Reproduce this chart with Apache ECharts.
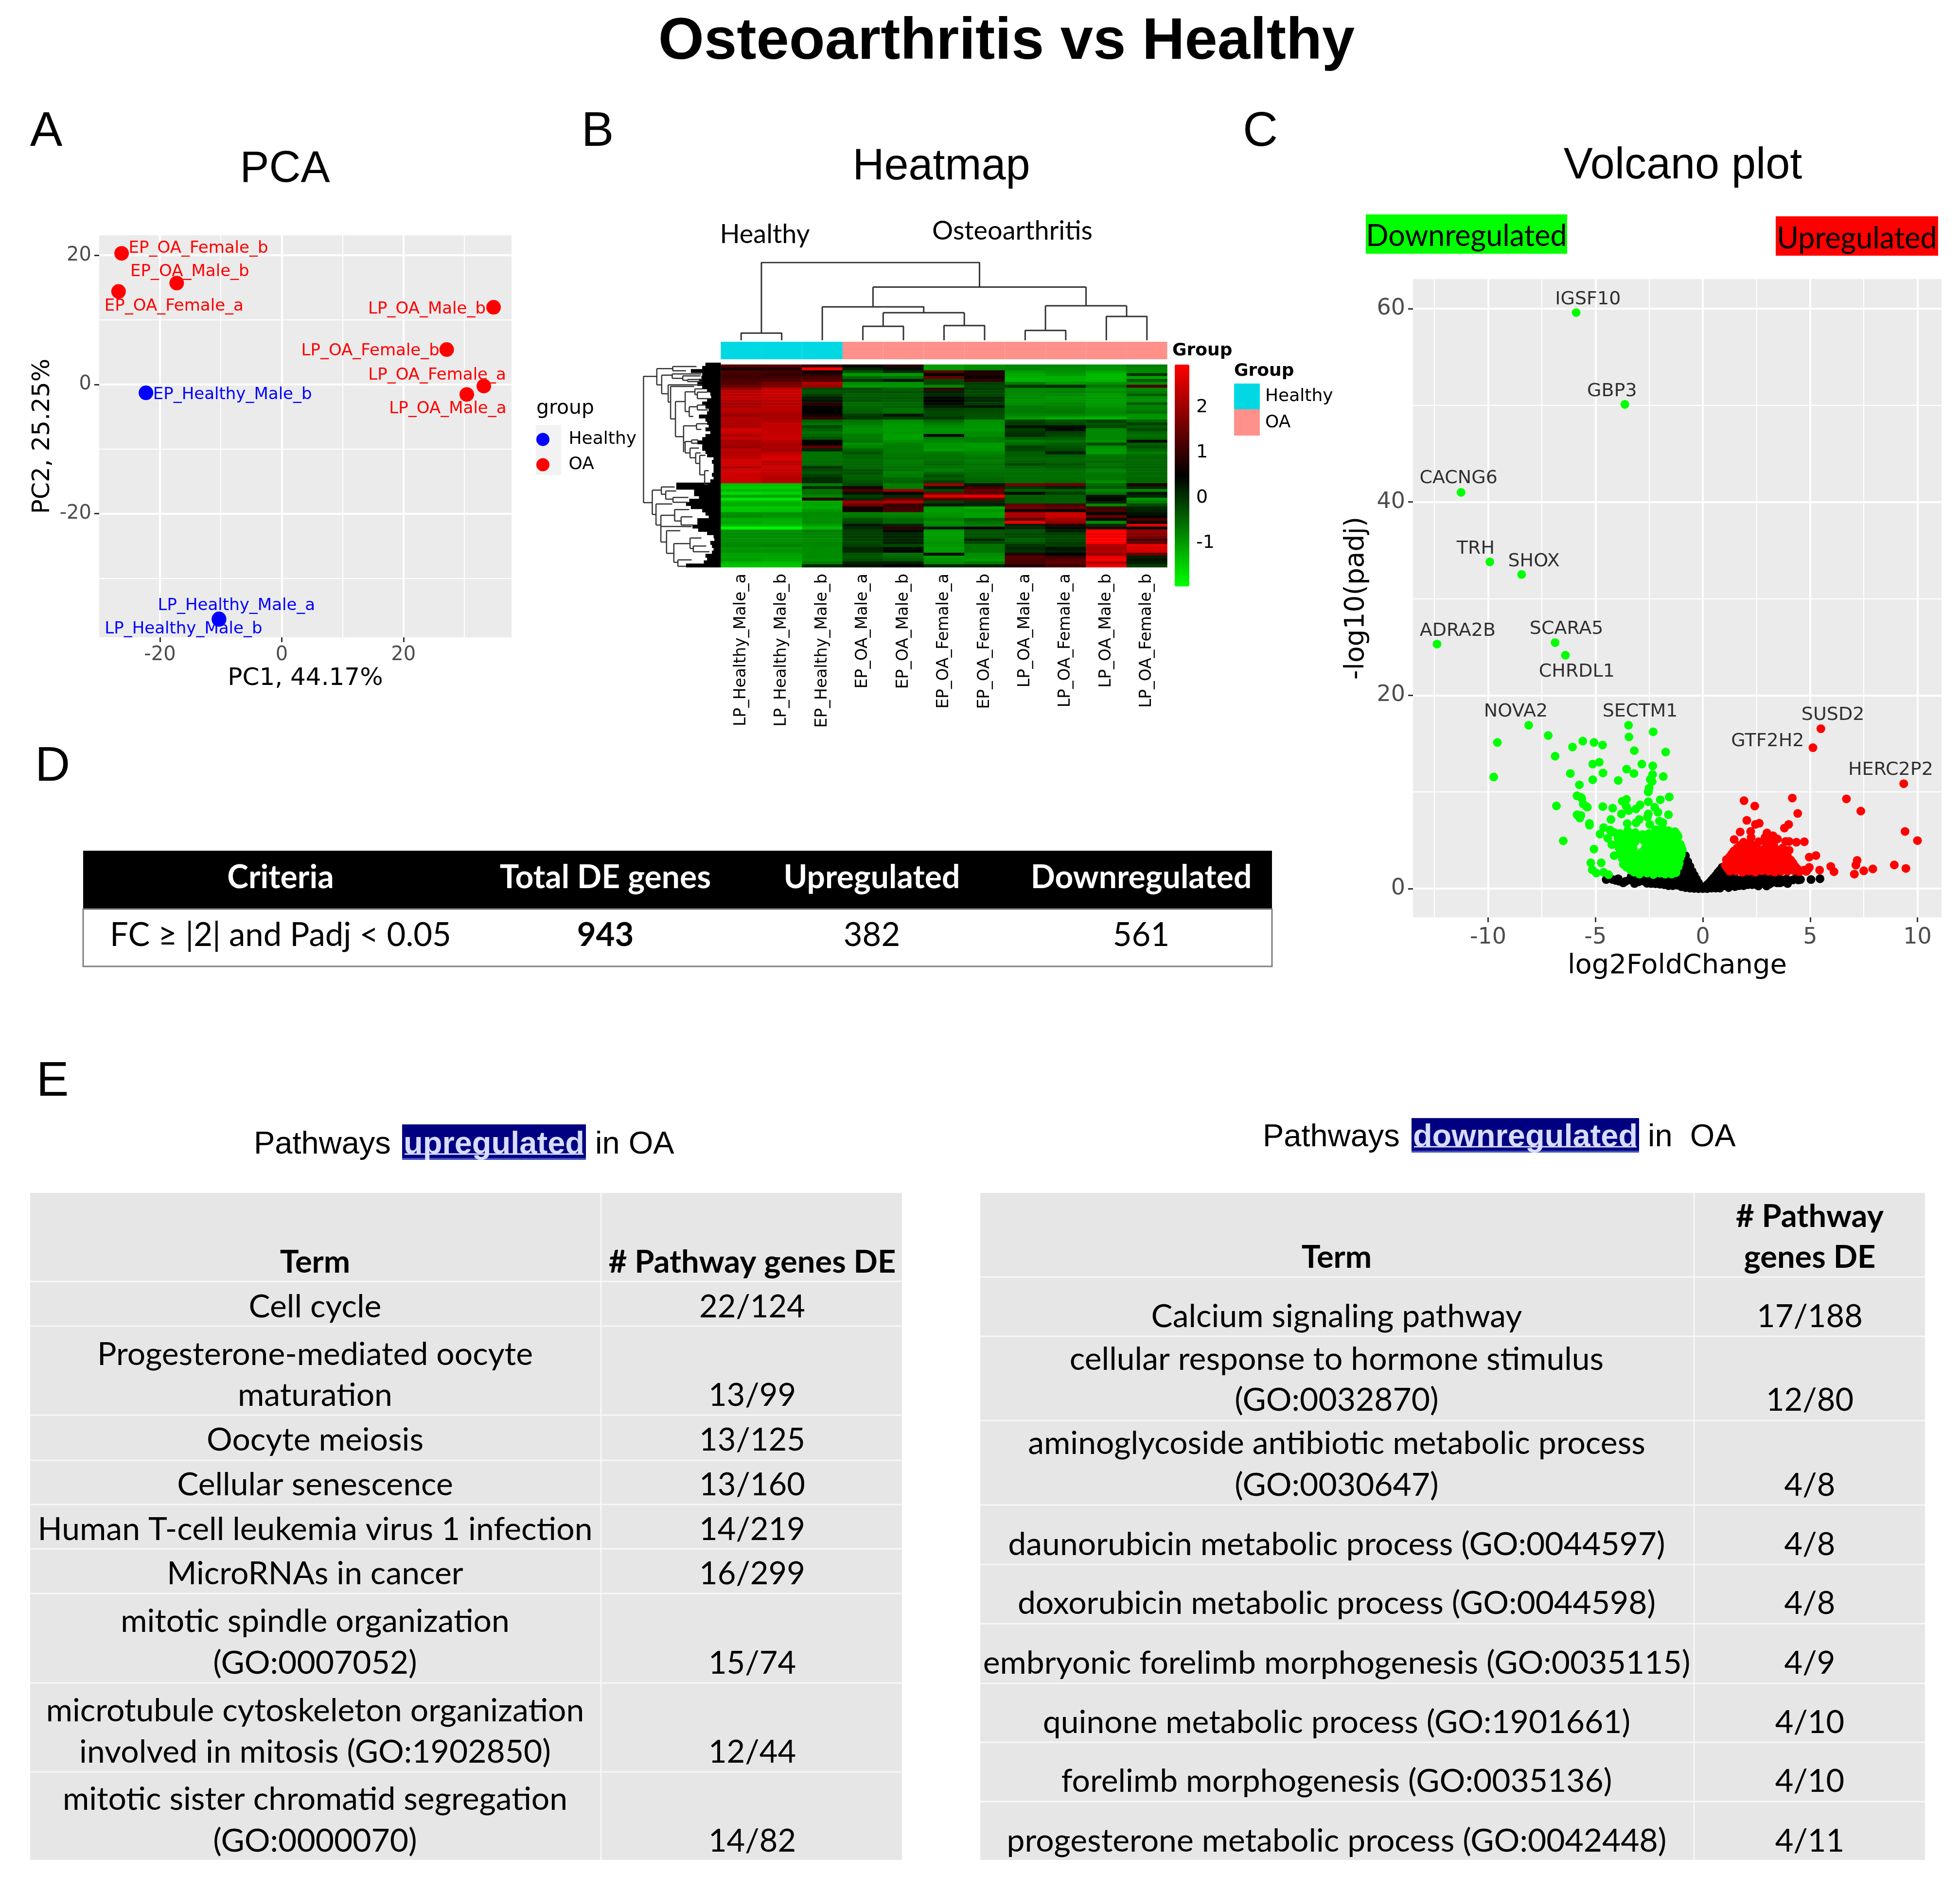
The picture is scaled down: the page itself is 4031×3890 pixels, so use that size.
<!DOCTYPE html>
<html><head><meta charset="utf-8">
<style>html,body{margin:0;padding:0;background:#fff}#c{width:4031px;height:3890px}</style>
<script src="https://cdn.jsdelivr.net/npm/echarts@6/dist/echarts.min.js"></script>
</head><body><div id="c"></div>
<script>
/* ---------- data ---------- */
const mainTitle = 'Osteoarthritis vs Healthy';
const pcaHealthy = [['EP_Healthy_Male_b',-22.3,-1.3],['LP_Healthy_Male_a',-10.3,-36.3],['LP_Healthy_Male_b',-10.3,-36.4]];
const pcaOA = [['EP_OA_Female_b',-26.3,20.3],['EP_OA_Male_b',-17.25,15.7],['EP_OA_Female_a',-26.8,14.4],['LP_OA_Male_b',34.8,11.95],['LP_OA_Female_b',27.1,5.4],['LP_OA_Female_a',33.2,-0.25],['LP_OA_Male_a',30.4,-1.55]];
const pcaTicksX = [-20,0,20], pcaTicksY = [-20,0,20], pcaMinorX = [-10,10,30], pcaMinorY = [-30,-10,10];

const sampleNames = ['LP_Healthy_Male_a','LP_Healthy_Male_b','EP_Healthy_Male_b','EP_OA_Male_a','EP_OA_Male_b','EP_OA_Female_a','EP_OA_Female_b','LP_OA_Male_a','LP_OA_Female_a','LP_OA_Male_b','LP_OA_Female_b'];
const sampleGroups = ['Healthy','Healthy','Healthy','OA','OA','OA','OA','OA','OA','OA','OA'];
const heatRows = [
[1.3,1.3,1.0,.5,.8,-1.0,-.9,-.8,-.8,-.9,-.7],[.7,.8,2.95,.2,.4,-1.0,-.85,-.8,-.85,-.9,-.8],[1.2,1.1,.6,-.3,.1,1.4,.8,-1.0,-.9,-1.1,-.85],[1.1,1.0,.9,-1.0,-1.0,.5,.8,-1.15,-1.0,-1.3,.0],
[1.1,1.1,1.2,-.5,-.6,1.5,.6,-1.2,-1.2,-1.3,-1.1],[1.2,1.3,1.3,.0,.3,-.2,1.0,-1.25,-1.2,-1.3,-.3],[1.3,1.6,2.2,-.85,-.9,-.2,-.1,-.7,-.95,-.9,-.85],[1.5,1.7,2.0,-1.0,-.95,-.8,-.2,.0,.1,-.6,1.2],
[2.0,2.4,-.2,-.2,-.4,1.0,-.1,-.75,-.75,-.95,-.8],[2.3,2.45,-.3,-.3,-.3,.2,-.2,-.8,-.75,-.85,-.7],[2.3,2.4,-.1,-.4,-.4,.1,-.2,-.8,-.85,-1.0,-.4],[2.4,2.4,.2,-.35,-.35,.4,.1,-.85,-.95,-1.0,-.85],
[2.2,2.3,.3,-.3,-.4,.5,.1,-.9,-.9,-1.0,-.9],[2.1,2.2,.9,-.55,-.5,.4,-.1,-.85,-.8,-1.0,-.4],[2.1,2.3,.6,-.5,-.45,.2,.3,-.7,-.75,-.95,-.75],[2.3,2.3,.45,-.45,-.6,-.1,-.2,-.7,-.7,-.85,-.75],
[2.2,2.2,.5,-.4,-.55,-.2,-.25,-.7,-.65,-.8,-.6],[2.0,2.1,.7,-.1,.3,-.2,-.3,-.8,-.8,-.9,-.9],[2.2,2.15,1.0,.0,-.1,.0,-.3,-1.0,-1.15,-1.25,-.95],[2.2,2.15,-.4,-.6,-.85,-.5,-.9,-.1,-.3,-.1,-.5],
[2.2,2.4,-.6,-.7,-.95,-.7,-.9,-.1,-.2,-.3,-.1],[2.1,2.35,-.2,-.85,-1.0,-.85,-.95,.3,.35,-.2,-.4],[2.55,2.4,-.4,-.9,-1.0,-.95,-1.0,-.1,.4,-.8,-.2],[2.4,2.4,-.6,-.85,-.95,-.9,-.85,.0,-.1,-.8,-.5],
[2.2,2.4,-.5,-.7,-1.05,.4,-.85,.1,-.2,-.8,-.6],[2.4,2.45,-.3,-.7,-1.05,-.7,-.7,-.4,-.4,-.8,-.5],[2.1,2.3,.6,-.6,-.9,-.8,-.7,-.7,-.6,-.9,.4],[2.1,2.1,.5,-.9,-.75,-.95,-1.0,-.5,-.4,-.2,-.4],
[2.0,2.2,1.4,-.75,-.7,-.95,-1.0,-.1,-.3,-.9,-.3],[2.3,2.05,.2,-.5,-.7,-1.0,-.95,-.2,-.2,-1.0,-.5],[2.2,2.3,-.6,-.3,-.7,-.7,-.8,-.4,.2,-1.0,-.7],[2.3,2.5,-.6,-.5,-.65,-.6,-.7,-.4,-.4,-.6,-.5],
[2.4,2.6,-.6,-.5,-.6,-.6,-.65,-.5,-.5,-.6,-.5],[2.5,2.3,-.55,-.5,-.7,-.55,-.7,-.4,-.45,-.5,-.5],[2.5,2.3,-.55,-.5,-.65,-.5,-.6,-.2,-.3,-.6,-.5],[2.2,2.5,.0,-.5,-.6,-.6,-.65,-.5,-.4,-.5,-.45],
[2.5,2.4,-.2,-.3,-.6,-.7,-.6,-.55,-.55,-.75,-.5],[2.5,2.35,-.3,-.3,-.75,-.5,-.55,-.55,-.55,-.7,-.5],[2.45,2.3,-.1,-.45,-.7,-.25,-.55,-.6,-.6,-.6,-.55],[2.45,2.2,.1,-.4,-.5,-.4,-.5,-.55,-.55,-.65,-.5],
[2.45,2.3,.1,-.3,-.45,-.1,-.45,-.55,-.5,-.85,-.5],
[-1.35,-1.35,-.7,-.2,-.7,2.0,.3,1.6,1.5,-.5,.8],[-1.5,-1.5,.1,.7,-.7,.3,1.1,.0,.2,-.4,.1],[-1.3,-1.3,-.6,1.2,2.0,-.2,1.5,-.4,-.4,-.8,-.8],[-1.6,-1.55,-.6,.3,.5,1.6,1.4,.4,-.1,-.6,.3],
[-1.1,-1.1,-.8,-.1,.1,2.6,2.8,-.4,-.4,.3,.1],[-1.7,-1.7,.9,.1,1.5,1.3,1.4,-.35,-.4,.5,-.9],[-1.25,-1.25,-1.15,2.0,2.2,-.1,.1,-.4,-.4,.2,-.7],[-1.2,-1.2,-1.1,1.6,1.0,.3,.2,1.4,1.2,-.8,-.2],
[-1.45,-1.45,-1.15,.6,1.1,-1.0,-1.15,1.6,1.5,1.1,.1],[-1.4,-1.35,-.95,.7,1.2,-1.05,-.95,.7,.6,1.2,.2],[-.9,-.9,-.85,-.75,-.8,-.95,-1.05,2.2,2.5,.4,.3],[-.85,-.95,-.85,-.65,-.7,-.9,-1.05,2.1,2.4,1.5,.5],
[-1.15,-1.15,-.9,-.3,-.5,-.7,-.4,1.4,2.1,.4,1.2],[-1.1,-1.2,-.85,-.2,-.5,-.9,-.6,2.8,1.9,-.85,.6],[-1.3,-1.3,-1.05,.3,.2,-.8,-.7,.2,.8,.1,2.7],[-1.85,-1.85,-1.3,.1,.9,.3,.6,.1,.4,.8,.5],
[-.9,-.9,-.7,-.1,.4,-1.0,-.3,-.3,.2,2.9,1.9],[-.85,-.85,-.8,-.1,.1,-1.05,-.3,-.2,-.1,2.8,1.8],[-.85,-.85,-.8,-.1,.15,-1.0,-.3,-.25,-.2,2.85,1.7],[-.9,-.9,-.85,-.15,.1,-1.0,.1,-.4,-.2,2.95,1.2],
[-.85,-.85,-.8,-.2,.2,-.9,-.2,-.3,-.1,2.95,1.5],[-.8,-.75,-.8,-.1,-.2,-.95,-.6,.0,-.1,2.2,2.7],[-.95,-.95,-.85,.1,.3,-1.05,-.6,.1,.3,2.1,2.6],[-.9,-.9,-.85,.1,.5,-1.0,-.6,.0,.2,2.2,2.5],
[-1.05,-1.05,-.85,-.3,-.6,.4,-.85,.8,.5,2.0,1.5],[-1.1,-1.1,-.85,-.35,-.5,-1.0,-.9,1.3,1.1,2.7,.2],[-1.0,-1.1,-.9,-.25,-.35,-.9,-1.0,1.2,1.3,2.9,.3],[-1.3,-1.35,-.75,.2,.2,-.85,-.7,1.2,1.4,2.2,.2],[-1.4,-1.4,.1,.3,.5,.1,.2,.8,1.1,2.8,-.1]
];
const heatMin = -1.96, heatMax = 2.95, heatTicks = [-1,0,1,2];
/* column dendrogram: polylines [columnPosition, mergeHeight] */
const colTree = [
[[.5,0],[.5,21],[1.5,21],[1.5,0]],[[1,21],[1,228],[6.375,228],[6.375,156]],
[[3.75,156],[9,156]],[[3.75,156],[3.75,98]],[[9,156],[9,101]],
[[2.5,0],[2.5,98],[5,98],[5,81]],[[4,81],[6,81]],[[4,81],[4,41]],[[6,81],[6,43]],
[[3.5,0],[3.5,41],[4.5,41],[4.5,0]],[[5.5,0],[5.5,43],[6.5,43],[6.5,0]],
[[8,101],[10,101]],[[8,101],[8,29]],[[10,101],[10,70]],
[[7.5,0],[7.5,29],[8.5,29],[8.5,0]],[[9.5,0],[9.5,70],[10.5,70],[10.5,0]]
];
/* row dendrogram: polylines [height, rowPosition] */
const rowTree = [
[[477,882],[477,103],[395,103]],[[477,882],[423,882]],
[[395,55],[395,155]],[[395,55],[297,55]],[[395,155],[365,155]],
[[297,42],[297,68]],[[297,42],[150,42]],[[297,68],[215,68]],
[[365,95],[365,210]],[[365,95],[300,95]],[[365,210],[325,210]],
[[300,88],[300,115]],[[300,88],[120,88]],[[300,115],[235,115]],
[[235,100],[235,127]],[[235,100],[125,100]],[[235,127],[205,127]],[[205,122],[205,135]],[[205,122],[115,122]],[[205,135],[115,135]],
[[325,155],[325,262]],[[325,155],[115,155]],[[325,262],[310,262]],
[[310,165],[310,365]],[[310,165],[165,165]],[[310,365],[280,365]],
[[280,258],[280,475]],[[280,258],[220,258]],[[280,475],[230,475]],
[[220,198],[220,320]],[[220,198],[160,198]],[[220,320],[195,320]],
[[160,180],[160,215]],[[160,180],[115,180]],[[160,215],[145,215]],[[145,200],[145,240]],[[145,240],[70,240]],[[145,200],[85,200]],
[[195,290],[195,350]],[[195,290],[145,290]],[[195,350],[170,350]],[[145,280],[145,310]],[[145,280],[95,280]],[[145,310],[80,310]],
[[230,408],[230,570]],[[230,408],[150,408]],[[230,510],[220,510]],[[150,395],[150,430]],[[150,395],[80,395]],[[150,430],[120,430]],
[[220,505],[220,575]],[[220,505],[180,505]],[[220,575],[190,575]],[[180,495],[180,515]],[[180,495],[140,495]],[[180,515],[140,515]],
[[190,545],[190,605]],[[190,545],[135,545]],[[190,605],[155,605]],[[155,575],[155,640]],[[155,575],[125,575]],[[155,640],[130,640]],
[[130,590],[130,710]],[[130,590],[95,590]],[[130,710],[100,710]],[[100,685],[100,770]],[[100,685],[75,685]],[[100,770],[80,770]],
[[423,805],[423,955]],[[423,805],[367,805]],[[423,955],[400,955]],
[[367,785],[367,830]],[[367,785],[285,785]],[[367,830],[340,830]],
[[340,810],[340,860]],[[340,810],[275,810]],[[340,860],[295,860]],[[295,850],[295,880]],[[295,850],[200,850]],[[295,880],[200,880]],
[[400,890],[400,1020]],[[400,890],[300,890]],[[400,1020],[370,1020]],
[[370,960],[370,1125]],[[370,960],[285,960]],[[370,1028],[180,1030]],[[370,1125],[335,1125]],
[[285,925],[285,995]],[[285,925],[195,925]],[[285,995],[245,995]],[[245,970],[245,1020]],[[245,970],[175,970]],[[245,1020],[170,1020]],
[[335,1055],[335,1195]],[[335,1055],[250,1055]],[[335,1195],[290,1195]],
[[290,1135],[290,1250]],[[290,1135],[190,1135]],[[290,1250],[265,1250]],
[[190,1100],[190,1165]],[[190,1100],[120,1100]],[[190,1165],[170,1165]],[[170,1150],[170,1185]],[[170,1150],[90,1150]],[[170,1185],[70,1185]],
[[265,1235],[265,1275]],[[265,1235],[180,1235]],[[265,1275],[215,1275]]
];
const rowLeafPos =   [30,50,70,90,110,130,150,170,190,210,230,250,270,290,310,330,350,370,390,410,430,450,470,490,510,530,550,570,590,610,630,650,670,690,710,730,750,770,790,810,830,850,870,890,910,930,950,970,990,1010,1030,1050,1070,1090,1110,1130,1150,1170,1190,1210,1230,1250,1270];
const rowLeafDepth = [95,115,185,115,120,135,145,115,85,65,60,85,115,95,75,85,135,95,85,75,95,65,95,115,145,115,115,95,85,45,55,45,45,45,55,45,65,275,275,165,165,135,195,215,185,115,95,75,145,145,175,140,85,45,40,65,55,45,55,95,85,105,215];

const volcanoGreen = [[-5.9,59.6],[-3.63,50.1],[-11.26,41.0],[-9.92,33.8],[-8.44,32.5],[-12.38,25.3],[-6.88,25.45],[-6.4,24.15],
[-8.11,16.9],[-7.2,15.84],[-9.57,15.12],[-5.59,15.26],[-5.07,15.12],[-4.67,14.85],[-6.07,14.65],[-6.88,13.7],[-3.46,16.9],[-3.44,15.69],[-2.31,16.22],[-3.19,14.27],[-1.73,14.13],[-4.82,13.08],[-5.13,12.88],[-2.84,12.88],[-2.33,12.7],[-3.55,12.36],[-4.65,11.96],[-6.17,11.91],[-3.21,11.91],[-2.34,11.8],[-1.84,11.6],[-9.74,11.55],[-5.13,11.26],[-3.94,11.19],[-2.36,11.08],[-2.45,11.3],[-5.75,10.74],[-2.54,10.04],[-2.5,10.4],[-5.86,9.6],[-5.67,9.44],[-1.56,9.48],[-1.98,9.19],
[-2.54,10.0],[-3.56,9.24],[-3.75,9.04],[-5.64,9.33],[-5.42,8.49],[-5.68,7.57],[-5.28,6.56],[-4.66,8.49],[-4.2,8.32],[-3.79,7.73],[-4.28,7.15],[-3.56,8.49],[-3.45,8.07],[-2.92,8.66],[-3.11,8.24],[-2.54,8.99],[-2.24,8.41],[-2.09,7.9],[-1.6,7.65],[-2.54,7.73],[-2.58,7.4],[-2.96,7.15],[-3.11,6.81],[-2.47,6.64],[-3.52,6.73],[-2.02,6.98],[-1.86,6.81],[-4.62,6.31],[-4.32,6.06],[-4.13,5.81],[-4.79,5.64],[-4.43,5.22],[-4.24,4.55],[-5.07,4.09],[-4.13,3.41],[-5.22,2.67],[-4.73,2.67],[-5.15,1.95],[-4.96,1.61],[-4.62,1.69],[-4.39,1.44],[-6.82,8.56],[-6.5,4.94],[-5.86,7.64],[-5.73,7.3],[-5.28,6.74],[-5.57,8.76],[-5.38,8.43],
[-3.85,5.7],[-3.5,6.0],[-3.15,5.8],[-2.8,5.6],[-2.5,5.7],[-2.2,6.1],[-1.9,6.3],[-1.6,6.0],[-1.3,5.9],
[-3.95,5.2],[-3.6,5.3],[-3.3,5.2],[-2.95,5.25],[-2.6,5.1],[-2.3,5.3],[-2.0,5.4],[-1.7,5.2],[-1.4,5.3],[-1.15,5.4],
[-3.98,4.5],[-3.65,4.6],[-3.3,4.55],[-2.55,4.5],[-2.25,4.6],[-1.95,4.6],[-1.65,4.55],[-1.35,4.6],[-1.05,4.6],
[-3.85,3.8],[-3.5,3.9],[-3.2,3.8],[-2.85,3.75],[-2.55,3.85],[-2.25,3.9],[-1.95,3.8],[-1.65,3.9],[-1.35,3.85],[-1.05,3.8],[-.95,4.0],
[-3.75,3.1],[-3.45,3.2],[-3.15,3.15],[-2.85,3.2],[-2.55,3.1],[-2.25,3.2],[-1.95,3.15],[-1.65,3.2],[-1.35,3.15],[-1.05,3.2],
[-3.7,2.5],[-3.4,2.4],[-3.1,2.5],[-2.8,2.45],[-2.5,2.5],[-2.2,2.4],[-1.9,2.5],[-1.6,2.45],[-1.3,2.5],[-1.1,2.6],
[-3.35,1.9],[-3.05,1.85],[-2.75,1.9],[-2.45,1.85],[-2.15,1.95],[-1.85,1.9],[-1.55,1.85],[-1.25,1.95],[-2.95,1.5],[-2.3,1.45],[-1.75,1.5],[-1.45,1.5],
[-3.7,5.5],[-3.35,5.5],[-3.0,5.5],[-2.65,5.45],[-2.35,5.5],[-2.05,5.75],[-1.75,5.65],[-1.45,5.6],[-1.2,5.6],
[-3.8,4.9],[-3.45,4.9],[-3.15,4.85],[-2.75,4.95],[-2.45,4.85],[-2.1,4.95],[-1.8,4.9],[-1.5,4.95],[-1.2,4.95],
[-3.9,4.2],[-3.55,4.2],[-3.25,4.2],[-2.7,4.15],[-2.4,4.2],[-2.1,4.25],[-1.8,4.2],[-1.5,4.2],[-1.2,4.2],[-1.0,4.3],
[-3.8,3.5],[-3.5,3.5],[-3.2,3.45],[-3.0,3.5],[-2.7,3.45],[-2.4,3.5],[-2.1,3.5],[-1.8,3.55],[-1.5,3.5],[-1.2,3.5],[-1.0,3.5],
[-3.6,2.85],[-3.3,2.8],[-3.0,2.85],[-2.7,2.8],[-2.4,2.85],[-2.1,2.8],[-1.8,2.85],[-1.5,2.8],[-1.2,2.85],
[-3.55,2.2],[-3.25,2.2],[-2.95,2.15],[-2.65,2.2],[-2.35,2.15],[-2.05,2.2],[-1.75,2.15],[-1.45,2.2],[-1.15,2.25],[-3.2,1.7],[-2.6,1.6],[-2.0,1.6],[-1.25,1.65]];
const volcanoRed = [[5.5,16.54],[5.13,14.58],[9.36,10.85],[4.17,9.37],[6.69,9.28],[7.36,8.02],[1.92,9.1],[2.42,8.54],[4.42,7.78],[9.42,5.91],[10.0,4.97],[7.19,2.92],[7.13,2.43],[5.27,3.42],[4.96,3.26],[8.92,2.45],[9.46,2.09],[7.92,2.04],[7.5,1.84],[7.06,1.5],[5.96,2.29],[6.11,1.75],[5.44,1.91],[4.96,2.2],[4.71,1.91],
[2.05,7.06],[2.63,6.76],[2.45,6.64],[4.0,6.64],[3.8,6.26],[1.74,5.86],[2.23,5.92],[1.46,5.08],[2.99,5.76],[3.27,5.47],[3.48,5.13],[4.73,4.85],[4.36,4.8],[4.02,4.88],[3.86,4.88],[3.72,4.21],[4.02,3.96],[4.91,2.03],[4.82,1.78],
[1.25,1.8],[1.55,1.8],[1.85,1.7],[2.15,1.8],[2.45,1.7],[2.75,1.85],[3.05,1.8],[3.35,1.7],[3.65,1.8],[3.95,1.8],[4.25,1.85],[4.5,1.75],
[1.05,2.4],[1.35,2.4],[1.65,2.35],[1.95,2.4],[2.25,2.45],[2.55,2.4],[2.85,2.35],[3.15,2.4],[3.45,2.4],[3.75,2.45],[4.05,2.4],[4.3,2.3],
[1.1,3.0],[1.4,3.0],[1.7,3.05],[2.0,3.0],[2.3,2.95],[2.6,3.0],[2.9,3.0],[3.2,3.05],[3.5,3.0],[3.8,3.05],[4.1,2.95],
[1.35,3.6],[1.65,3.6],[1.95,3.55],[2.25,3.6],[2.55,3.65],[2.85,3.6],[3.15,3.6],[3.45,3.55],[3.7,3.6],
[1.6,4.2],[1.9,4.2],[2.2,4.15],[2.5,4.2],[2.85,4.1],[3.1,4.25],[3.35,4.2],
[1.9,4.8],[2.2,4.75],[2.6,4.85],[2.9,4.9],[3.2,4.8],[2.25,5.3],[2.9,5.3],[3.1,5.35],
[1.15,2.1],[1.45,2.1],[1.75,2.05],[2.05,2.1],[2.35,2.1],[2.65,2.05],[2.95,2.1],[3.25,2.1],[3.55,2.05],[3.85,2.1],[4.15,2.1],[4.4,2.05],
[1.2,2.7],[1.5,2.7],[1.8,2.7],[2.1,2.65],[2.4,2.7],[2.75,2.7],[3.05,2.7],[3.35,2.65],[3.65,2.7],[3.95,2.7],[4.2,2.65],
[1.25,3.3],[1.55,3.3],[1.85,3.3],[2.15,3.25],[2.45,3.3],[2.75,3.3],[3.0,3.3],[3.3,3.3],[3.6,3.25],[3.95,3.3],
[1.45,3.9],[1.8,3.9],[2.1,3.9],[2.4,3.85],[2.7,3.9],[3.0,3.9],[3.25,3.9],[3.55,3.85],[1.75,4.5],[2.05,4.5],[2.35,4.45],[3.0,4.5],[3.3,4.5]];
const volcanoBlack = [[-.81,3.4],[-.7,2.8],[-.6,2.3],[-.5,1.8],[-.4,1.4],[-.3,1.0],[-.2,.6],[-.1,.25],[0,0],[.1,.2],[.2,.4],[.3,.6],[.4,.85],[.5,1.1],[.6,1.35],[.7,1.65],[.8,1.9],[.9,2.2],
[-1.0,2.8],[-1.0,2.2],[-1.0,1.6],[-.95,1.1],[-.85,.6],[-.8,1.5],[-.8,2.4],[-.65,1.8],[-.6,1.2],[-.6,.6],[-.45,1.0],[-.4,.5],[-.25,.4],[-.15,.2],[-1.2,1.2],[-1.2,.8],[-1.2,.35],[-1.4,1.1],[-1.4,.6],[-1.6,1.0],[-1.6,.5],[-1.8,.9],[-1.8,.6],[-2.0,1.0],[-2.0,.7],[-2.2,1.0],[-2.2,.75],[-2.4,.52],[-2.4,1.1],[-2.6,.9],[-2.8,1.2],[-3.0,1.1],[-.8,.1],[-1.0,.2],[-.4,.02],
[-4.5,.94],[-4.2,.94],[-3.94,1.02],[-3.9,.77],[-3.71,.6],[-3.34,1.22],[-3.18,.52],[-2.85,1.19],[-1.71,1.19],[-1.18,1.27],[-4.05,.85],
[.95,1.6],[.95,1.2],[.9,.8],[.8,.5],[.7,1.0],[.6,.5],[.5,.2],[.8,.05],[1.2,.1],[1.1,.6],[1.1,1.1],[1.3,.6],[1.3,1.1],[1.5,.2],[1.5,.7],[1.5,1.1],[1.7,.3],[1.7,.8],[1.9,.3],[1.9,.8],[1.9,1.2],[2.1,.4],[2.1,.9],[2.3,.4],[2.3,.9],[2.5,.4],[2.5,1.0],[2.7,.5],[2.7,1.1],[2.9,.5],[2.9,1.0],[3.1,.45],[3.1,.9],[3.3,.8],[3.46,.6],[3.49,1.19],[3.7,.9],[3.95,.52],[3.9,1.0],[4.2,.9],[4.35,1.1],[4.55,.94],[5.04,.94],[5.46,1.02],[2.97,.27],[2.59,.27],
[-3.6,.75],[-3.4,.9],[-3.0,.7],[-2.8,.8],[-2.6,.55],[-2.2,.5],[-2.0,.45],[-1.8,.4],[-1.4,.3],[-1.6,.3],[-.6,.05],[-.2,0],[.2,0],[.4,.05],[.6,.05],
[1.0,.3],[1.4,.4],[1.6,.5],[1.8,.55],[2.0,.6],[2.2,.6],[2.4,.65],[2.6,.7],[2.8,.75],[3.0,.7],[3.2,.6],[3.4,.9],[3.6,.6],[3.8,.7],[4.0,.8],[4.45,.9],[2.2,1.1],[2.6,1.15],[3.2,1.2],[3.0,1.2]];
const volcanoLabels = [['IGSF10',-5.35,61.09],['GBP3',-4.23,51.6],['CACNG6',-11.38,42.57],['TRH',-10.58,35.3],['SHOX',-7.87,34.0],['ADRA2B',-11.42,26.8],['SCARA5',-6.35,27.0],['CHRDL1',-5.87,22.55],['NOVA2',-8.71,18.47],['SECTM1',-2.92,18.43],['SUSD2',6.06,18.09],['GTF2H2',3.02,15.4],['HERC2P2',8.75,12.4]];
const volcanoTicksX = [-10,-5,0,5,10], volcanoTicksY = [0,20,40,60], volcanoMinorX = [-12.5,-7.5,-2.5,2.5,7.5], volcanoMinorY = [10,30,50];

const deHeader = ['Criteria','Total DE genes','Upregulated','Downregulated'];
const deRow = ['FC ≥ |2| and Padj < 0.05','943','382','561'];
const upTerms = [['Cell cycle'],['Progesterone-mediated oocyte','maturation'],['Oocyte meiosis'],['Cellular senescence'],['Human T-cell leukemia virus 1 infection'],['MicroRNAs in cancer'],['mitotic spindle organization','(GO:0007052)'],['microtubule cytoskeleton organization','involved in mitosis (GO:1902850)'],['mitotic sister chromatid segregation','(GO:0000070)']];
const upCounts = ['22/124','13/99','13/125','13/160','14/219','16/299','15/74','12/44','14/82'];
const downTerms = [['Calcium signaling pathway'],['cellular response to hormone stimulus','(GO:0032870)'],['aminoglycoside antibiotic metabolic process','(GO:0030647)'],['daunorubicin metabolic process (GO:0044597)'],['doxorubicin metabolic process (GO:0044598)'],['embryonic forelimb morphogenesis (GO:0035115)'],['quinone metabolic process (GO:1901661)'],['forelimb morphogenesis (GO:0035136)'],['progesterone metabolic process (GO:0042448)']];
const downCounts = ['17/188','12/80','4/8','4/8','4/8','4/9','4/10','4/10','4/11'];

/* ---------- layout ---------- */
const SANS='"Liberation Sans"', DV='"DejaVu Sans"', CAL='Lato';
const pcaOffsets = {EP_OA_Female_b:[158,-10],EP_OA_Male_b:[27,-23],EP_OA_Female_a:[114,31],LP_OA_Male_b:[-137,4],LP_OA_Female_b:[-157,3],LP_OA_Female_a:[-96,-22],LP_OA_Male_a:[-39,30],EP_Healthy_Male_b:[178,4],LP_Healthy_Male_a:[36,-27],LP_Healthy_Male_b:[-73,20]};
const G = {
 pca:{left:204,top:484,width:848,height:827},
 colTree:{left:1482.5,top:540,width:918,height:160},
 anno:{left:1482.5,top:703,width:918,height:36},
 heat:{left:1482.5,top:750,width:918,height:417},
 rowTree:{left:1310,top:740,width:172.5,height:440},
 bar:{left:2416,top:750,width:30,height:456.5},
 vol:{left:2906,top:574,width:1087,height:1313}
};
const grids = Object.values(G).map(g=>Object.assign({containLabel:false,borderWidth:0},g));
grids[0].show=true;grids[0].backgroundColor='#EBEBEB';
grids[6].show=true;grids[6].backgroundColor='#EBEBEB';

function gg(min,max,ticks,size,margin,name,nameSize,gap,pos){
  return {type:'value',min,max,position:pos,scale:true,
   axisLine:{show:false,onZero:false},
   axisTick:{show:true,length:10,customValues:ticks,lineStyle:{color:'#333',width:3}},
   axisLabel:{show:true,customValues:ticks,fontFamily:DV,fontSize:size,color:'#4D4D4D',margin},
   splitLine:{show:true,lineStyle:{color:'#fff',width:4}},
   name,nameLocation:'middle',nameGap:gap,nameMoveOverlap:false,nameTextStyle:{fontFamily:DV,fontSize:nameSize,color:'#000'}};
}
const hidden=(o)=>Object.assign({show:false,splitLine:{show:false}},o);
const xAxes=[
 gg(-29.98,37.75,pcaTicksX,40,17,'PC1, 44.17%',50,60,'bottom'),
 hidden({type:'value',min:0,max:11}),
 hidden({type:'category',data:sampleNames}),
 {type:'category',data:sampleNames,position:'bottom',axisLine:{show:false},axisTick:{show:false},splitLine:{show:false},
  axisLabel:{rotate:90,interval:0,fontFamily:DV,fontSize:33,color:'#000',margin:13}},
 hidden({type:'value',min:0,max:517.5,inverse:true}),
 hidden({type:'value',min:0,max:1}),
 gg(-13.5,11.12,volcanoTicksX,46,19,'log2FoldChange',56,72,'bottom')
].map((a,i)=>Object.assign(a,{gridIndex:i}));
const yAxes=[
 gg(-39.16,23.1,pcaTicksY,40,16,'PC2, 25.25%',50,91,'left'),
 hidden({type:'value',min:0,max:228}),
 hidden({type:'value',min:0,max:1}),
 hidden({type:'category',inverse:true,data:heatRows.map((_,i)=>'g'+i)}),
 hidden({type:'value',min:0,max:1320,inverse:true}),
 {type:'value',min:heatMin,max:heatMax,position:'right',axisLine:{show:false},splitLine:{show:false},
  axisTick:{show:false,customValues:heatTicks},
  axisLabel:{show:true,customValues:heatTicks,fontFamily:DV,fontSize:38,color:'#000',margin:14}},
 gg(-2.97,63.07,volcanoTicksY,46,16,'-log10(padj)',55,89,'left')
].map((a,i)=>Object.assign(a,{gridIndex:i}));

function minorLines(i,xs,ys){
 return {type:'scatter',name:'grid'+i,xAxisIndex:i,yAxisIndex:i,data:[],z:1,silent:true,
  markLine:{silent:true,symbol:'none',z:1,animation:false,label:{show:false},lineStyle:{color:'#fff',width:2,type:'solid'},
   data:xs.map(v=>({xAxis:v})).concat(ys.map(v=>({yAxis:v})))}};
}
function pcaSeries(name,color,rows){
 return {type:'scatter',name,xAxisIndex:0,yAxisIndex:0,z:3,symbolSize:30,itemStyle:{color,opacity:1},
  data:rows.map(r=>({name:r[0],value:[r[1],r[2]],
    label:{show:true,position:'inside',offset:pcaOffsets[r[0]],formatter:r[0],fontFamily:DV,fontSize:34,color}}))};
}
function polyData(lines){const out=[];lines.forEach(l=>{l.forEach(p=>out.push(p));out.push([null,null]);});return out;}
function volSeries(name,color,z,data){
 return {type:'scatter',name,xAxisIndex:6,yAxisIndex:6,z,symbolSize:18,itemStyle:{color,opacity:1},data};
}
const heatData=[];heatRows.forEach((row,r)=>row.forEach((v,c)=>heatData.push([c,r,v])));
const annoColor={Healthy:'#00D9E3',OA:'#FF918A'};
const series=[
 minorLines(0,pcaMinorX,pcaMinorY),
 pcaSeries('Healthy','#0000FF',pcaHealthy),
 pcaSeries('OA','#FF0000',pcaOA),
 {type:'line',name:'colTree',xAxisIndex:1,yAxisIndex:1,showSymbol:false,connectNulls:false,silent:true,
  lineStyle:{color:'#333',width:3},data:polyData(colTree)},
 {type:'bar',name:'annotation',xAxisIndex:2,yAxisIndex:2,barWidth:'100%',silent:true,
  data:sampleGroups.map(g=>({value:1,itemStyle:{color:annoColor[g]}}))},
 {type:'heatmap',name:'expression',xAxisIndex:3,yAxisIndex:3,data:heatData,silent:true,itemStyle:{borderWidth:0},emphasis:{disabled:true}},
 {type:'line',name:'rowLeaves',xAxisIndex:4,yAxisIndex:4,showSymbol:false,silent:true,z:2,
  lineStyle:{color:'#000',width:8},
  data:polyData(rowLeafPos.map((y,i)=>[[rowLeafDepth[i],y],[0,y]]))},
 {type:'line',name:'rowTree',xAxisIndex:4,yAxisIndex:4,showSymbol:false,silent:true,z:3,
  lineStyle:{color:'#333',width:2.5},data:polyData(rowTree)},
 minorLines(6,volcanoMinorX,volcanoMinorY),
 volSeries('notSignificant','#000000',3,volcanoBlack),
 volSeries('down','#00FF00',4,volcanoGreen),
 volSeries('up','#FF0000',4,volcanoRed),
 {type:'scatter',name:'geneLabels',xAxisIndex:6,yAxisIndex:6,z:5,symbolSize:0,silent:true,
  data:volcanoLabels.map(l=>({name:l[0],value:[l[1],l[2]]})),
  label:{show:true,position:'inside',offset:[0,3],formatter:'{b}',fontFamily:DV,fontSize:38,color:'#000'}}
];

/* static drawing: titles, legend boxes and tables */
const E=[];
function T(text,x,y,font,fill,align,z){E.push({type:'text',x,y,z:z||20,silent:true,style:{text,font,fill:fill||'#000',align:align||'center',verticalAlign:'middle'}});}
function R(x,y,w,h,fill,z){E.push({type:'rect',shape:{x,y,width:w,height:h},z:z||10,silent:true,style:{fill}});}
function L(x1,y1,x2,y2,stroke,w,z){E.push({type:'line',shape:{x1,y1,x2,y2},z:z||12,silent:true,style:{stroke,lineWidth:w}});}

[['A',95,272],['B',1229,272],['C',2592,272],['D',108,1578],['E',108,2226]].forEach(a=>T(a[0],a[1],a[2],`100px ${SANS}`));
T('Healthy',1573,483,`54px ${CAL}`);T('Osteoarthritis',2082,476,`54px ${CAL}`);

R(1102,874,52,103,'#F2F2F2',1);
T('group',1103,840,`41px ${DV}`,'#000','left');

T('Group',2411,722,`bold 36px ${DV}`,'#000','left');
T('Group',2538,764,`bold 36px ${DV}`,'#000','left');
R(2538,789,53,53,annoColor.Healthy);R(2538,842,53,54,annoColor.OA);
T('Healthy',2602,816,`36px ${DV}`,'#000','left');T('OA',2602,870,`36px ${DV}`,'#000','left');

R(2809,441,414,81,'#00FF00');T('Downregulated',3016,486,`61px ${CAL}`);
R(3652,445,334,81,'#FF0000');T('Upregulated',3819,491,`61px ${CAL}`);

/* table D */
R(171,1750,2445,120,'#000');
E.push({type:'rect',shape:{x:171,y:1870,width:2445,height:118},z:10,silent:true,style:{fill:'#fff',stroke:'#7F7F7F',lineWidth:3}});
const dCols=[577,1245,1793,2347];
deHeader.forEach((t,i)=>T(t,dCols[i],1806,`bold 66px ${CAL}`,'#fff'));
deRow.forEach((t,i)=>T(t,dCols[i],1924,`${i==1?'bold ':''}67px ${CAL}`));

/* pathway headings */
T('Pathways ',522,2355,`65px ${SANS}`,'#000','left');
R(827,2313,378,73,'#000080');L(827,2384,1205,2384,'#4050C0',4);
T('upregulated',1016,2355,`bold 65px ${SANS}`,'#D8DCFF');L(832,2374,1200,2374,'#D8DCFF',3,21);
T('in OA',1224,2355,`65px ${SANS}`,'#000','left');
T('Pathways ',2597,2340,`65px ${SANS}`,'#000','left');
R(2903,2300,468,71,'#000080');L(2903,2369,3371,2369,'#4050C0',4);
T('downregulated',3137,2340,`bold 65px ${SANS}`,'#D8DCFF');L(2908,2359,3366,2359,'#D8DCFF',3,21);
T('in  OA',3389,2340,`65px ${SANS}`,'#000','left');

/* pathway tables */
function table(left,right,split,rowEdges,header,terms,counts,lineYs,termX,countX,countYs){
 R(left,rowEdges[0],right-left,rowEdges[rowEdges.length-1]-rowEdges[0],'#E7E6E6');
 L(split,rowEdges[0],split,rowEdges[rowEdges.length-1],'#F7F7F7',3);
 rowEdges.slice(1,-1).forEach(y=>L(left,y,right,y,'#F7F7F7',3));
 header.forEach(h=>T(h[0],h[1],h[2]+2,`bold 65px ${CAL}`));
 terms.forEach((lines,i)=>lines.forEach((t,j)=>T(t,termX,lineYs[i][j]+2,`66px ${CAL}`)));
 counts.forEach((t,i)=>T(t,countX,countYs[i]+2,`65px ${CAL}`));
}
table(62,1855,1236,[2454,2636,2728,2911,3004,3095,3186,3278,3462,3645,3826],
 [['Term',648,2595],['# Pathway genes DE',1547,2595]],upTerms,upCounts,
 [[2687],[2785,2869],[2961],[3053],[3145],[3236],[3334,3420],[3518,3603],[3700,3786]],648,1547,
 [2687,2869,2961,3053,3145,3236,3420,3603,3786]);
table(2016,3959,3484,[2454,2627,2749,2922,3096,3218,3340,3463,3584,3706,3826],
 [['Term',2749,2585],['# Pathway',3722,2501],['genes DE',3722,2585]],downTerms,downCounts,
 [[2707],[2795,2879],[2968,3054],[3176],[3297],[3420],[3542],[3663],[3786]],2749,3722,
 [2707,2879,3054,3176,3297,3420,3542,3663,3786]);

const titles=[[mainTitle,2070,88,121,'bold'],['PCA',586,349,90,'normal'],['Heatmap',1936,344,90,'normal'],['Volcano plot',3461,342,90,'normal']]
 .map(t=>({text:t[0],left:t[1],top:t[2],textAlign:'center',textVerticalAlign:'middle',padding:0,
   textStyle:{fontFamily:SANS,fontSize:t[3],fontWeight:t[4],color:'#000'}}));

const chart=echarts.init(document.getElementById('c'),null,{renderer:'canvas'});
chart.setOption({
 animation:false,backgroundColor:'#fff',title:titles,tooltip:{show:false},
 grid:grids,xAxis:xAxes,yAxis:yAxes,series,
 legend:{data:['Healthy','OA'],orient:'vertical',left:1098,top:881,itemWidth:50,itemHeight:27,itemGap:16,selectedMode:false,icon:'circle',
   textStyle:{fontFamily:DV,fontSize:36,color:'#000',padding:[0,0,0,23]}},
 visualMap:{type:'continuous',seriesIndex:5,dimension:2,min:heatMin,max:heatMax,left:2416,top:750,itemWidth:30,itemHeight:456.5,padding:0,
   calculable:false,hoverLink:false,text:['',''],showLabel:false,inRange:{color:['#00FF00','#000000','#FF0000']}},
 graphic:{elements:E}
});
</script></body></html>
